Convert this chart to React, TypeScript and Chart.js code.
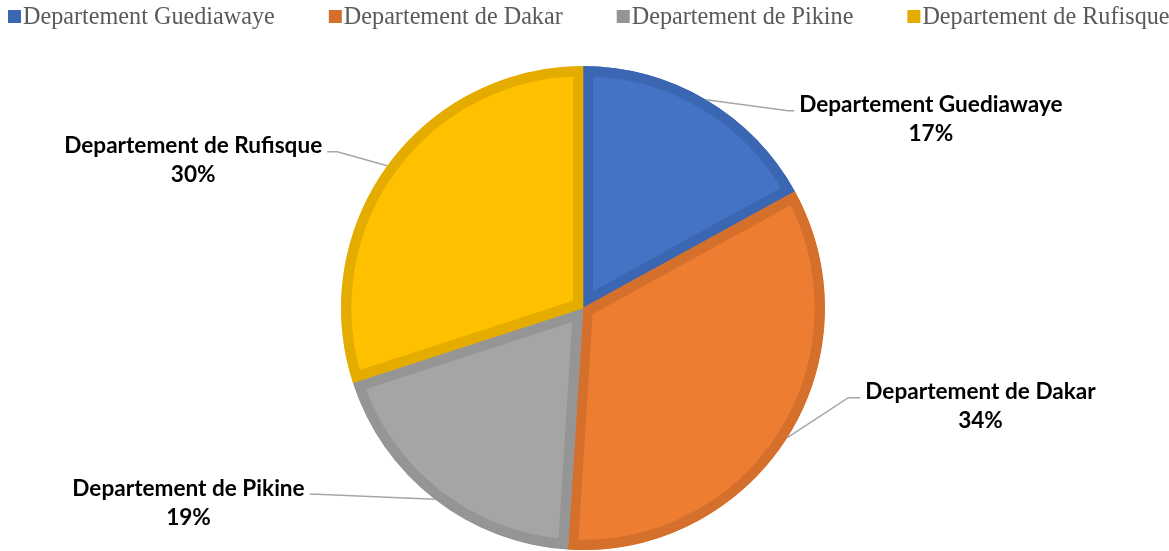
import React, { useEffect, useRef } from "react";
import { Chart, registerables } from "chart.js";

Chart.register(...registerables);

const categories = [
  "Departement Guediawaye",
  "Departement de Dakar",
  "Departement de Pikine",
  "Departement de Rufisque",
];
const shares = [17, 34, 19, 30];
const percentLabels = ["17%", "34%", "19%", "30%"];
const fillColors = ["#4472C4", "#ED7D31", "#A5A5A5", "#FFC000"];
const borderColors = ["#3B66B2", "#D5702C", "#959595", "#E5AC00"];

// leader/label layout per slice (offsets from the slice's outer mid point)
const labelLayout = [
  { ex: 82, ey: 11, run: 6, side: 1 },
  { ex: 61, ey: -40, run: 12, side: 1 },
  { ex: -118, ey: -5, run: 7, side: -1 },
  { ex: -50, ey: -14, run: 10, side: -1 },
];

const LABEL_FONT = "bold 22.6px Lato";
const LEGEND_FONT = "24.2px 'Liberation Serif'";

const legendPlugin = {
  id: "customLegend",
  afterDraw(chart: any) {
    const ctx = chart.ctx;
    ctx.save();
    ctx.font = LEGEND_FONT;
    ctx.textBaseline = "middle";
    ctx.textAlign = "left";
    let x = 8;
    const y = 17;
    const gap = 54;
    categories.forEach((c, i) => {
      ctx.fillStyle = borderColors[i];
      ctx.fillRect(x, y - 7, 13, 13);
      ctx.fillStyle = "#595959";
      ctx.fillText(c, x + 15, y + 1);
      x += 15 + ctx.measureText(c).width + gap;
    });
    ctx.restore();
  },
};

const labelPlugin = {
  id: "leaderLabels",
  afterDatasetsDraw(chart: any) {
    const ctx = chart.ctx;
    const meta = chart.getDatasetMeta(0);
    ctx.save();
    meta.data.forEach((arc: any, i: number) => {
      const p = arc.getProps(["x", "y", "startAngle", "endAngle", "outerRadius"], true);
      const mid = (p.startAngle + p.endAngle) / 2;
      const sx = p.x + Math.cos(mid) * p.outerRadius;
      const sy = p.y + Math.sin(mid) * p.outerRadius;
      const L = labelLayout[i];
      const bx = sx + L.ex;
      const by = sy + L.ey;
      const endX = bx + L.side * L.run;
      ctx.strokeStyle = "#A6A6A6";
      ctx.lineWidth = 1.5;
      ctx.beginPath();
      ctx.moveTo(sx, sy);
      ctx.lineTo(bx, by);
      ctx.lineTo(endX, by);
      ctx.stroke();

      ctx.font = LABEL_FONT;
      const w = Math.max(
        ctx.measureText(categories[i]).width,
        ctx.measureText(percentLabels[i]).width
      );
      const left = L.side > 0 ? endX + 5 : endX - 5 - w;
      const cx = left + w / 2;
      const line1 = by - 6;
      ctx.fillStyle = "#000000";
      ctx.textAlign = "center";
      ctx.textBaseline = "middle";
      ctx.fillText(categories[i], cx, line1);
      ctx.fillText(percentLabels[i], cx, line1 + 29);
    });
    ctx.restore();
  },
};

export default function App() {
  const ref = useRef<HTMLCanvasElement | null>(null);
  useEffect(() => {
    document.body.style.margin = "0";
    if (!ref.current) return;
    const chart = new Chart(ref.current, {
      type: "pie",
      data: {
        labels: categories,
        datasets: [
          {
            data: shares,
            backgroundColor: fillColors,
            borderColor: borderColors,
            borderWidth: 10,
            borderAlign: "inner",
          } as any,
        ],
      },
      options: {
        responsive: false,
        animation: false,
        layout: { padding: { left: 283, right: 286, top: 66, bottom: 1 } },
        plugins: {
          legend: { display: false },
          tooltip: { enabled: false },
        },
      },
      plugins: [legendPlugin, labelPlugin],
    });
    return () => chart.destroy();
  }, []);
  return (
    <div style={{ width: 1169, height: 551 }}>
      <canvas ref={ref} width={1169} height={551} />
    </div>
  );
}
